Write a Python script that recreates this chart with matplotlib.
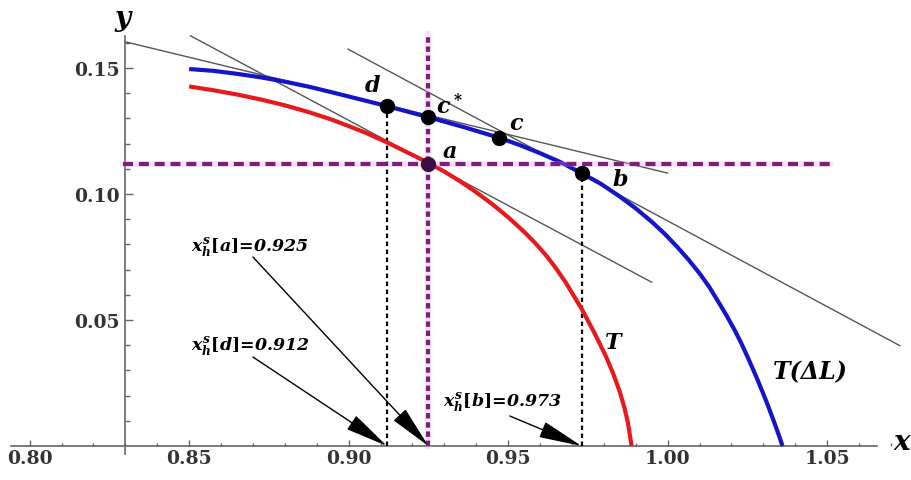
import matplotlib
matplotlib.use("Agg")
import matplotlib.pyplot as plt
from matplotlib.ticker import MultipleLocator, FixedLocator

plt.rcParams["mathtext.fontset"] = "custom"
plt.rcParams["mathtext.it"] = "DejaVu Serif:italic:bold"
plt.rcParams["mathtext.rm"] = "DejaVu Serif:bold"
plt.rcParams["mathtext.bf"] = "DejaVu Serif:bold"

SERIF = "DejaVu Serif"

# curve T (red)
red_x = [0.850, 0.8575, 0.865, 0.8725, 0.880, 0.8875, 0.895, 0.905, 0.912, 0.925,
         0.930, 0.935, 0.940, 0.945, 0.950, 0.955, 0.9585, 0.962, 0.965, 0.968,
         0.973, 0.977, 0.9805, 0.983, 0.985, 0.9865, 0.9875, 0.9882, 0.9887]
red_y = [0.1427, 0.1412, 0.1395, 0.1375, 0.1352, 0.1325, 0.1294, 0.1245, 0.1205, 0.1124,
         0.1089, 0.1050, 0.1007, 0.0960, 0.0908, 0.0850, 0.0805, 0.0755, 0.0705, 0.0650,
         0.0545, 0.0450, 0.0360, 0.0285, 0.0215, 0.0150, 0.0095, 0.0040, 0.0]

# curve T(dL) (blue)
blue_x = [0.850, 0.8575, 0.865, 0.8725, 0.880, 0.8875, 0.895, 0.912, 0.925, 0.936,
          0.947, 0.9535, 0.960, 0.9665, 0.973, 0.979, 0.985, 0.990, 0.995, 0.999,
          1.003, 1.0065, 1.010, 1.013, 1.016, 1.0185, 1.021, 1.023, 1.025, 1.0265,
          1.028, 1.0295, 1.031, 1.033, 1.0348, 1.036]
blue_y = [0.1496, 0.1489, 0.1477, 0.1463, 0.1446, 0.1426, 0.1403, 0.1349, 0.1305, 0.1266,
          0.1224, 0.1195, 0.1162, 0.1126, 0.1083, 0.1041, 0.0990, 0.0943, 0.0890, 0.0843,
          0.0790, 0.0740, 0.0685, 0.0632, 0.0570, 0.0517, 0.0460, 0.0410, 0.0355, 0.0312,
          0.0268, 0.0222, 0.0175, 0.0108, 0.0045, 0.0]

# thin straight lines (endpoints)
seg_x0 = [0.830, 0.8998, 0.8504]
seg_y0 = [0.1604, 0.1575, 0.1628]
seg_x1 = [1.000, 1.0728, 0.995]
seg_y1 = [0.1083, 0.0398, 0.0650]

# marked points
pt_x = [0.912, 0.925, 0.947, 0.973]
pt_y = [0.1349, 0.1305, 0.1224, 0.1083]

x_a, y_a = 0.925, 0.112
x_d, x_b = 0.912, 0.973
y_d, y_b = 0.1349, 0.1083

fig = plt.figure(figsize=(9.12, 4.81), dpi=100)
ax = fig.add_axes([0, 0, 1, 1])
ax.set_xlim(0.7907, 1.0766)
ax.set_ylim(-0.0135, 0.1774)

for s in ["top", "right"]:
    ax.spines[s].set_visible(False)
ax.spines["left"].set_position(("data", 0.83))
ax.spines["bottom"].set_position(("data", 0.0))
ax.spines["left"].set_bounds(-0.003, 0.1627)
ax.spines["bottom"].set_bounds(0.794, 1.0656)
for s in ["left", "bottom"]:
    ax.spines[s].set_color("#666666")
    ax.spines[s].set_linewidth(1.2)

ax.xaxis.set_major_locator(FixedLocator([0.80, 0.85, 0.90, 0.95, 1.00, 1.05]))
ax.xaxis.set_minor_locator(MultipleLocator(0.01))
ax.yaxis.set_major_locator(FixedLocator([0.05, 0.10, 0.15]))
ax.yaxis.set_minor_locator(FixedLocator([0.01, 0.02, 0.03, 0.04, 0.06, 0.07, 0.08, 0.09,
                                         0.11, 0.12, 0.13, 0.14, 0.16]))
ax.set_xticklabels(["0.80", "0.85", "0.90", "0.95", "1.00", "1.05"])
ax.set_yticklabels(["0.05", "0.10", "0.15"])
ax.tick_params(axis="x", which="major", direction="in", length=4, width=1, color="#666666", pad=2)
ax.tick_params(axis="x", which="minor", direction="in", length=2.5, width=1, color="#666666")
ax.tick_params(axis="y", which="major", direction="in", length=6, width=1, color="#666666", pad=4)
ax.tick_params(axis="y", which="minor", direction="in", length=3.5, width=1, color="#666666")
for lab in ax.get_xticklabels() + ax.get_yticklabels():
    lab.set_fontfamily(SERIF)
    lab.set_fontweight("bold")
    lab.set_fontsize(13.5)
    lab.set_color("#333333")

# thin lines
for x0, y0, x1, y1 in zip(seg_x0, seg_y0, seg_x1, seg_y1):
    ax.plot([x0, x1], [y0, y1], color="#555555", lw=1.0, zorder=2)

# black dashed drop lines
ax.plot([x_d, x_d], [0, y_d], color="black", lw=1.6, dashes=(2, 1.6), zorder=3)
ax.plot([x_b, x_b], [0, y_b], color="black", lw=1.6, dashes=(2, 1.6), zorder=3)

# curves
ax.plot(red_x, red_y, color="#e8191c", lw=3.0, solid_capstyle="butt",
        solid_joinstyle="round", zorder=4)
ax.plot(blue_x, blue_y, color="#1414c8", lw=3.0, solid_capstyle="butt",
        solid_joinstyle="round", zorder=4)

# purple dashed lines
ax.plot([0.8292, 1.0508], [y_a, y_a], color="#e9a0e9", lw=4.2, alpha=0.3, zorder=5)
ax.plot([0.8292, 1.0508], [y_a, y_a], color="#7c1f7c", lw=3.0, dashes=(2.4, 1.4), zorder=5)
ax.plot([x_a, x_a], [0, 0.1635], color="#e9a0e9", lw=4.2, alpha=0.3, zorder=5)
ax.plot([x_a, x_a], [0, 0.1635], color="#7c1f7c", lw=3.0, dashes=(1.3, 0.9), zorder=5)

# points
ax.plot(pt_x, pt_y, "o", color="black", ms=10, zorder=6)
ax.plot([x_a], [y_a], "o", color="#3b0f42", ms=10, zorder=6)

lab_kw = dict(fontfamily=SERIF, fontweight="bold", fontstyle="italic",
              ha="center", va="center", zorder=7)
ax.text(0.9076, 0.1432, "d", fontsize=16, **lab_kw)
ax.text(0.9318, 0.1350, "$c^*$", fontsize=16, **lab_kw)
ax.text(0.9526, 0.1280, "c", fontsize=16, **lab_kw)
ax.text(0.9318, 0.1170, "a", fontsize=16, **lab_kw)
ax.text(0.9850, 0.1060, "b", fontsize=16, **lab_kw)
ax.text(0.9828, 0.0413, "T", fontsize=16, **lab_kw)
ax.text(1.0446, 0.0298, "T(ΔL)", fontsize=17, **lab_kw)
ax.text(1.0735, 0.0016, "x", fontsize=20, **lab_kw)
ax.text(0.8292, 0.1702, "y", fontsize=20, **lab_kw)

# annotations with arrows
ann_kw = dict(fontfamily=SERIF, fontweight="bold", fontstyle="italic",
              fontsize=12.5, ha="left", va="center", zorder=7)
ax.text(0.8505, 0.0790, "$x_h^s[a]$=0.925", **ann_kw)
ax.text(0.8505, 0.0398, "$x_h^s[d]$=0.912", **ann_kw)
ax.text(0.9295, 0.0175, "$x_h^s[b]$=0.973", **ann_kw)

arrow = dict(arrowstyle="-|>,head_length=2.1,head_width=0.4", color="black", lw=1.0,
             shrinkA=0, shrinkB=0, mutation_scale=13)
ax.annotate("", xy=(x_a, 0), xytext=(0.870, 0.0750), arrowprops=arrow, zorder=6)
ax.annotate("", xy=(x_d, 0), xytext=(0.870, 0.0353), arrowprops=arrow, zorder=6)
ax.annotate("", xy=(x_b, 0), xytext=(0.9505, 0.0119), arrowprops=arrow, zorder=6)

fig.savefig("out.png", dpi=100)
